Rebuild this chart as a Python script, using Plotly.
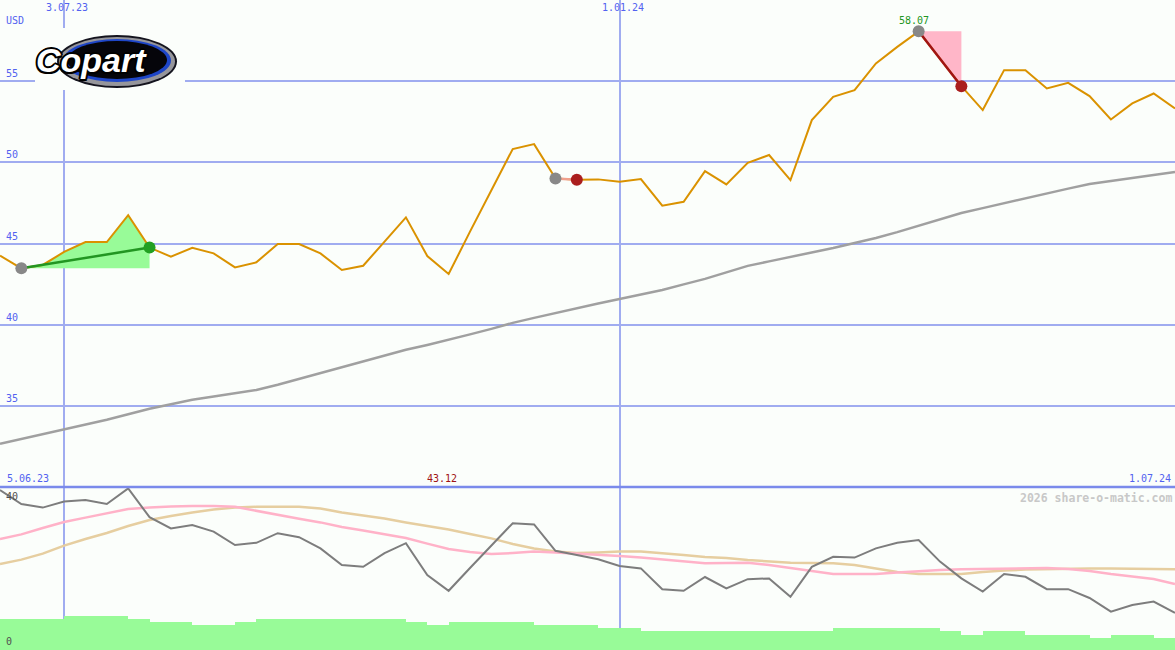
import pandas as pd
import plotly.graph_objects as go

# ---------------- data ----------------
dates = pd.date_range("2023-06-12", periods=56, freq="7D")

price = [44.25, 43.47, 43.68, 44.48, 45.09, 45.09, 46.75, 44.75, 44.19, 44.74,
         44.39, 43.53, 43.84, 44.97, 44.97, 44.39, 43.37, 43.63, 45.12, 46.61,
         44.23, 43.12, 45.73, 48.27, 50.82, 51.12, 49.01, 48.93, 48.95, 48.80,
         48.97, 47.33, 47.57, 49.46, 48.64, 49.97, 50.45, 48.91, 52.60, 54.03,
         54.45, 56.09, 57.11, 58.07, 56.35, 54.69, 53.22, 55.68, 55.68, 54.55,
         54.90, 54.08, 52.64, 53.63, 54.24, 53.32]

ma_long = [32.66, 32.95, 33.25, 33.55, 33.85, 34.14, 34.48, 34.82, 35.10, 35.37,
           35.58, 35.78, 35.98, 36.30, 36.66, 37.00, 37.35, 37.71, 38.08, 38.45,
           38.75, 39.06, 39.40, 39.74, 40.11, 40.42, 40.72, 41.03, 41.30, 41.58,
           41.86, 42.14, 42.48, 42.82, 43.22, 43.62, 43.90, 44.17, 44.45, 44.72,
           45.03, 45.34, 45.70, 46.08, 46.48, 46.88, 47.18, 47.49, 47.80, 48.11,
           48.38, 48.66, 48.85, 49.03, 49.22, 49.40]

ind_gray = [40.0, 36.5, 35.6, 37.1, 37.5, 36.5, 40.4, 33.2, 30.4, 31.25,
            29.6, 26.25, 26.8, 29.2, 28.2, 25.4, 21.25, 20.8, 24.2, 26.7,
            18.75, 14.8, 20.5, 26.0, 31.7, 31.4, 24.8, 23.75, 22.7, 21.0,
            20.4, 15.2, 14.8, 18.25, 15.4, 17.7, 17.9, 13.3, 20.8, 23.3,
            23.1, 25.4, 26.8, 27.5, 22.1, 17.9, 14.6, 19.0, 18.3, 15.2,
            15.2, 13.0, 9.6, 11.25, 12.1, 9.3]

ind_pink = [27.75, 28.9, 30.5, 32.0, 33.1, 34.25, 35.25, 35.6, 35.9, 36.0,
            36.0, 35.8, 34.75, 33.75, 32.8, 31.9, 30.75, 29.9, 29.0, 28.0,
            26.6, 25.25, 24.5, 24.0, 24.25, 24.6, 24.4, 24.1, 23.9, 23.5,
            23.1, 22.6, 22.1, 21.7, 21.75, 21.8, 21.25, 20.5, 19.75, 19.0,
            19.0, 19.0, 19.4, 19.75, 20.0, 20.2, 20.25, 20.4, 20.5, 20.5,
            20.25, 19.75, 19.0, 18.4, 17.75, 16.5]

ind_tan = [21.5, 22.6, 24.1, 26.1, 27.75, 29.25, 31.0, 32.5, 33.5, 34.4,
           35.1, 35.6, 35.8, 35.8, 35.8, 35.4, 34.4, 33.6, 32.9, 31.9,
           31.0, 30.1, 29.0, 27.9, 26.5, 25.4, 24.6, 24.25, 24.4, 24.6,
           24.6, 24.25, 23.75, 23.25, 23.0, 22.5, 22.1, 21.8, 21.75, 21.7,
           21.25, 20.4, 19.5, 19.0, 19.0, 19.0, 19.5, 19.9, 20.1, 20.25,
           20.4, 20.4, 20.4, 20.4, 20.25, 20.2]

volume = [7.75, 7.75, 7.75, 8.5, 8.5, 8.5, 7.75, 7.0, 7.0, 6.25,
          6.25, 7.0, 7.75, 7.75, 7.75, 7.75, 7.75, 7.75, 7.75, 7.0,
          6.25, 7.0, 7.0, 7.0, 7.0, 6.25, 6.25, 6.25, 5.5, 5.5,
          4.75, 4.75, 4.75, 4.75, 4.75, 4.75, 4.75, 4.75, 4.75, 5.5,
          5.5, 5.5, 5.5, 5.5, 4.75, 3.75, 4.75, 4.75, 3.75, 3.75,
          3.75, 3.0, 3.75, 3.75, 3.0, 3.0]

# trades: (entry index, exit index, kind)
trades = [(1, 7, "win"), (26, 27, "loss"), (43, 45, "loss")]

price_ticks = [35, 40, 45, 50, 55]
date_ticks = ["2023-07-03", "2024-01-01"]
date_tick_text = ["3.07.23", "1.01.24"]

# ---------------- styles ----------------
BG = "#FBFEFB"
GRID = "rgb(160,172,240)"
TXT_BLUE = "rgb(82,98,240)"
MONO = "DejaVu Sans Mono"
W, H = 1175, 650
lower_frac = 163 / 650

fig = go.Figure()

# volume bars (lower panel)
fig.add_trace(go.Bar(x=dates, y=volume, yaxis="y2", width=7 * 24 * 3600 * 1000,
                     offset=0, marker=dict(color="#98FB98", line=dict(width=0)),
                     hoverinfo="skip"))
# lower indicator lines
fig.add_trace(go.Scatter(x=dates, y=ind_tan, yaxis="y2", mode="lines",
                         line=dict(color="rgb(230,206,160)", width=2.5)))
fig.add_trace(go.Scatter(x=dates, y=ind_pink, yaxis="y2", mode="lines",
                         line=dict(color="rgb(255,178,200)", width=2.5)))
fig.add_trace(go.Scatter(x=dates, y=ind_gray, yaxis="y2", mode="lines",
                         line=dict(color="rgb(125,125,125)", width=2)))

# long moving average
fig.add_trace(go.Scatter(x=dates, y=ma_long, mode="lines",
                         line=dict(color="rgb(160,160,160)", width=2.5)))

# trade fills
for a, b, kind in trades:
    xs = list(dates[a:b + 1]) + [dates[b], dates[a]]
    ys = price[a:b + 1] + [price[a], price[a]]
    fig.add_trace(go.Scatter(x=xs, y=ys, mode="lines", fill="toself",
                             fillcolor="#98FB98" if kind == "win" else "#FFB6C8",
                             line=dict(width=0), hoverinfo="skip"))

# price line
fig.add_trace(go.Scatter(x=dates, y=price, mode="lines",
                         line=dict(color="rgb(218,146,0)", width=2)))

# trade lines and dots
for a, b, kind in trades:
    if kind == "win":
        lc, dc = "rgb(34,150,34)", "rgb(34,160,34)"
    elif b - a == 1:
        lc, dc = "rgb(240,160,140)", "rgb(170,30,30)"
    else:
        lc, dc = "rgb(160,20,20)", "rgb(170,30,30)"
    fig.add_trace(go.Scatter(x=[dates[a], dates[b]], y=[price[a], price[b]],
                             mode="lines", line=dict(color=lc, width=2.5)))
    fig.add_trace(go.Scatter(x=[dates[a]], y=[price[a]], mode="markers",
                             marker=dict(color="rgb(136,136,136)", size=12)))
    fig.add_trace(go.Scatter(x=[dates[b]], y=[price[b]], mode="markers",
                             marker=dict(color=dc, size=12)))

annotations = []
# price axis labels above gridlines
for v in price_ticks:
    annotations.append(dict(x=0, xref="paper", y=v, yref="y", text=str(v),
                            xanchor="left", yanchor="bottom", xshift=4, showarrow=False,
                            font=dict(family=MONO, size=10, color=TXT_BLUE)))
annotations.append(dict(x=0, xref="paper", y=1, yref="paper", yshift=-13, text="USD",
                        xanchor="left", yanchor="top", xshift=4, showarrow=False,
                        font=dict(family=MONO, size=10, color=TXT_BLUE)))
# top date labels
for d, t in zip(date_ticks, date_tick_text):
    annotations.append(dict(x=d, xref="x", y=1, yref="paper", text=t, xshift=3,
                            xanchor="center", yanchor="top", showarrow=False,
                            font=dict(family=MONO, size=10, color=TXT_BLUE)))
# panel-boundary labels
annotations.append(dict(x=0, xref="paper", y=lower_frac, yref="paper", text="5.06.23",
                        xanchor="left", yanchor="bottom", xshift=5, yshift=1, showarrow=False,
                        font=dict(family=MONO, size=10, color=TXT_BLUE)))
annotations.append(dict(x=1, xref="paper", y=lower_frac, yref="paper", text="1.07.24",
                        xanchor="right", yanchor="bottom", xshift=-2, yshift=1, showarrow=False,
                        font=dict(family=MONO, size=10, color=TXT_BLUE)))
i_min = price.index(min(price))
annotations.append(dict(x=dates[i_min], xref="x", y=lower_frac, yref="paper",
                        text=f"{min(price):.2f}", xanchor="center", yanchor="bottom",
                        xshift=-7, yshift=1, showarrow=False,
                        font=dict(family=MONO, size=10, color="rgb(160,20,20)")))
i_max = price.index(max(price))
annotations.append(dict(x=dates[i_max], xref="x", y=max(price), yref="y",
                        text=f"{max(price):.2f}", xanchor="center", yanchor="bottom",
                        xshift=-5, yshift=3, showarrow=False,
                        font=dict(family=MONO, size=10, color="rgb(34,150,34)")))
# lower panel labels
annotations.append(dict(x=0, xref="paper", y=lower_frac, yref="paper", yshift=-2, text="40",
                        xanchor="left", yanchor="top", xshift=4, showarrow=False,
                        font=dict(family=MONO, size=10, color="rgb(80,80,80)")))
annotations.append(dict(x=0, xref="paper", y=0, yref="paper", yshift=1, text="0",
                        xanchor="left", yanchor="bottom", xshift=4, showarrow=False,
                        font=dict(family=MONO, size=10, color="rgb(80,80,80)")))
annotations.append(dict(x=1, xref="paper", y=lower_frac, yref="paper", yshift=-2,
                        text="<b>2026 share-o-matic.com</b>",
                        xanchor="right", yanchor="top", xshift=-1, showarrow=False,
                        font=dict(family=MONO, size=11.5, color="rgb(200,200,200)")))
# logo text
annotations.append(dict(x=92 / W, xref="paper", y=1 - 60 / H, yref="paper",
                        text="<b><i>Copart</i></b>", xanchor="center", yanchor="middle",
                        showarrow=False,
                        font=dict(family="Liberation Sans", size=34, color="white",
                                  shadow="-1.5px -1.5px 0 #000, 1.5px -1.5px 0 #000, -1.5px 1.5px 0 #000, 1.5px 1.5px 0 #000, 0 2px 0 #000, 0 -2px 0 #000, 2px 0 0 #000, -2px 0 0 #000")))


def px_rect(x0, y0, x1, y1):
    return dict(xref="paper", yref="paper", x0=x0 / W, x1=x1 / W, y0=1 - y1 / H, y1=1 - y0 / H)


shapes = [
    # panel boundary
    dict(type="line", xref="paper", yref="paper", x0=0, x1=1, y0=lower_frac, y1=lower_frac,
         line=dict(color="rgb(122,138,235)", width=2.5), layer="above"),
    # logo backdrop and ellipse
    dict(type="rect", **px_rect(35, 28, 185, 90), fillcolor=BG, line=dict(width=0), layer="above"),
    dict(type="circle", **px_rect(57, 35, 177, 88), fillcolor="rgb(20,20,30)",
         line=dict(width=0), layer="above"),
    dict(type="circle", **px_rect(59, 37, 175, 86), fillcolor="rgb(150,150,155)",
         line=dict(width=0), layer="above"),
    dict(type="circle", **px_rect(63, 39, 171, 82), fillcolor="rgb(30,70,200)",
         line=dict(width=0), layer="above"),
    dict(type="circle", **px_rect(67, 41, 167, 79), fillcolor="rgb(5,5,10)",
         line=dict(width=0), layer="above"),
]

fig.update_layout(
    width=W, height=H,
    margin=dict(l=0, r=0, t=0, b=0),
    paper_bgcolor=BG, plot_bgcolor=BG,
    showlegend=False,
    bargap=0,
    xaxis=dict(type="date", range=[dates[0], dates[-1]], tickvals=date_ticks,
               showticklabels=False, showgrid=True, gridcolor=GRID, gridwidth=2,
               zeroline=False, showline=False, ticks=""),
    yaxis=dict(domain=[lower_frac, 1], range=[30, 60], tickvals=price_ticks,
               showticklabels=False, showgrid=True, gridcolor=GRID, gridwidth=2,
               zeroline=False, showline=False, ticks=""),
    yaxis2=dict(domain=[0, lower_frac], range=[0, 40.75], showticklabels=False,
                showgrid=False, zeroline=False, showline=False, ticks=""),
    annotations=annotations,
    shapes=shapes,
)

fig.write_html("out.html", config={"displayModeBar": False},
               post_script="document.body.style.margin='0px';document.body.style.overflow='hidden';")
